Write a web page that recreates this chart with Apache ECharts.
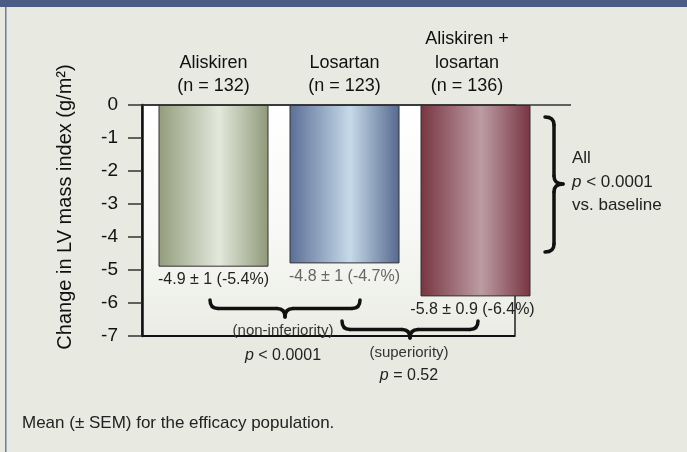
<!DOCTYPE html>
<html>
<head>
<meta charset="utf-8">
<script src="https://cdn.jsdelivr.net/npm/echarts@6/dist/echarts.min.js"></script>
<style>
    html, body { margin: 0; padding: 0; background: #e8e9e1; }
    #main { width: 687px; height: 452px; }
</style>
</head>
<body>
<div id="main"></div>
<script>
// 数据
let categories = ['Aliskiren\n(n = 132)', 'Losartan\n(n = 123)', 'Aliskiren +\nlosartan\n(n = 136)'];
let changeValues = [-4.9, -4.8, -5.8];
let valueLabels = ['-4.9 ± 1 (-5.4%)', '-4.8 ± 1 (-4.7%)', '-5.8 ± 0.9 (-6.4%)'];
let yMin = -7;
let yMax = 0;
let yStep = 1;

let font = "'Liberation Sans', Arial, sans-serif";

// 柱子渐变 (边缘深, 中间浅)
let barStops = [
    ['#929c7c', '#e3e8dc', '#8f9978'],
    ['#5a6e96', '#c6dae9', '#55688f'],
    ['#773541', '#bd9ca4', '#773541']
];
let labelColors = ['#222', '#666', '#222'];

function gradient(stops) {
    return new echarts.graphic.LinearGradient(0, 0, 1, 0, [
        {offset: 0, color: stops[0]},
        {offset: 0.55, color: stops[1]},
        {offset: 1, color: stops[2]}
    ]);
}

let braceStyle = {stroke: '#111', lineWidth: 3.5, fill: null, lineCap: 'round'};

function curve(x1, y1, cx, cy, x2, y2) {
    return {type: 'bezierCurve', z: 10, shape: {x1: x1, y1: y1, cpx1: cx, cpy1: cy, x2: x2, y2: y2}, style: braceStyle};
}

function seg(x1, y1, x2, y2) {
    return {type: 'line', z: 10, shape: {x1: x1, y1: y1, x2: x2, y2: y2}, style: braceStyle};
}

/*
 * @method hBrace: 水平花括号 (尖朝下)
 * @return {Array} 图形元素
 */
function hBrace(x1, x2, y, h, xm) {
    let m = y + h / 2, q = 8;
    return [
        curve(x1, y, x1, m, x1 + q, m),
        seg(x1 + q, m, xm - q, m),
        curve(xm - q, m, xm, m, xm, y + h),
        curve(xm, y + h, xm, m, xm + q, m),
        seg(xm + q, m, x2 - q, m),
        curve(x2 - q, m, x2, m, x2, y)
    ];
}

/*
 * @method vBrace: 竖直花括号 (尖朝右)
 * @return {Array} 图形元素
 */
function vBrace(x, y1, y2, w, ym) {
    let m = x + w / 2, q = 8;
    return [
        curve(x, y1, m, y1, m, y1 + q),
        seg(m, y1 + q, m, ym - q),
        curve(m, ym - q, m, ym, x + w, ym),
        curve(x + w, ym, m, ym, m, ym + q),
        seg(m, ym + q, m, y2 - q),
        curve(m, y2 - q, m, y2, x, y2)
    ];
}

function text(x, y, str, size, color, extra) {
    let style = {text: str, font: `${size}px ${font}`, fill: color, align: 'center', verticalAlign: 'middle',
                 rich: {i: {fontStyle: 'italic', fontSize: size, fontFamily: font, fill: color}}};
    Object.assign(style, extra || {});
    return {type: 'text', x: x, y: y, z: 10, style: style};
}

let chart = echarts.init(document.getElementById('main'));

let xData = categories.map((c, i) => {
    if (i === 2) {
        return {value: c, textStyle: {padding: [0, 17, 0, 0]}};
    }
    return c;
});

chart.setOption({
    animation: false,
    backgroundColor: '#e8e9e1',
    textStyle: {fontFamily: font},
    grid: {left: 148, top: 105, width: 393, height: 231},
    xAxis: {
        type: 'category',
        position: 'top',
        data: xData,
        axisLine: {show: false, onZero: false},
        axisTick: {show: false},
        axisLabel: {
            margin: 7,
            fontSize: 18,
            lineHeight: 23.5,
            color: '#111',
            fontFamily: font,
            interval: 0
        }
    },
    yAxis: {
        type: 'value',
        min: yMin,
        max: yMax,
        interval: yStep,
        offset: 6,
        axisLine: {show: true, lineStyle: {color: '#111', width: 2.5}},
        axisTick: {show: true, length: 14, lineStyle: {color: '#333', width: 1.5}},
        axisLabel: {margin: 24, fontSize: 19, color: '#111', fontFamily: font},
        splitLine: {show: false}
    },
    series: [{
        type: 'bar',
        barWidth: 110,
        z: 3,
        data: changeValues.map((v, i) => ({
            value: v,
            itemStyle: {color: gradient(barStops[i]), borderColor: '#333', borderWidth: 1},
            label: {color: labelColors[i], offset: i === 2 ? [-3, 0] : [0, 0]}
        })),
        label: {
            show: true,
            position: 'bottom',
            distance: 5,
            fontSize: 16,
            fontFamily: font,
            formatter: p => valueLabels[p.dataIndex]
        }
    }]
});

// 图框和标注
let y0 = chart.convertToPixel({yAxisIndex: 0}, 0);
let yBottom = chart.convertToPixel({yAxisIndex: 0}, yMin);
let axisX = 148 - 6;
let frameRight = 515;

let graphics = [
    {type: 'rect', z: -1, shape: {x: 0, y: 0, width: 687, height: 7}, style: {fill: '#4b5d84'}},
    {type: 'rect', z: -1, shape: {x: 5, y: 7, width: 1.5, height: 445}, style: {fill: '#6f7ea0'}},
    {
        type: 'rect', z: -1,
        shape: {x: axisX, y: y0, width: frameRight - axisX, height: yBottom - y0},
        style: {
            fill: new echarts.graphic.LinearGradient(0, 0, 0, 1, [
                {offset: 0, color: '#ffffff'},
                {offset: 0.55, color: '#f8f9f6'},
                {offset: 1, color: '#eaece4'}
            ]),
            stroke: '#222',
            lineWidth: 1.5
        }
    },
    {type: 'line', z: 10, shape: {x1: axisX, y1: y0, x2: 571, y2: y0}, style: {stroke: '#333', lineWidth: 1.5}},
    {type: 'line', z: 1, shape: {x1: axisX, y1: yBottom, x2: frameRight, y2: yBottom}, style: {stroke: '#111', lineWidth: 2}},
    {
        type: 'text', x: 65, y: 207, rotation: Math.PI / 2,
        style: {text: 'Change in LV mass index (g/m²)', font: `20px ${font}`, fill: '#111', align: 'center', verticalAlign: 'middle'}
    },
    text(283, 331, '(non-inferiority)', 15, '#333'),
    text(283, 356, '{i|p} < 0.0001', 16, '#222'),
    text(409, 353, '(superiority)', 15, '#333'),
    text(409, 376, '{i|p} = 0.52', 16, '#222'),
    text(572, 182, 'All\n{i|p} < 0.0001\nvs. baseline', 17, '#222', {align: 'left', lineHeight: 23.5}),
    text(22, 423, 'Mean (± SEM) for the efficacy population.', 17, '#222', {align: 'left'})
];

graphics = graphics
    .concat(hBrace(210, 360, 300, 17, 285))
    .concat(hBrace(342, 478, 321, 17, 410))
    .concat(vBrace(545, 117, 252, 18, 184));

chart.setOption({graphic: graphics});
</script>
</body>
</html>
